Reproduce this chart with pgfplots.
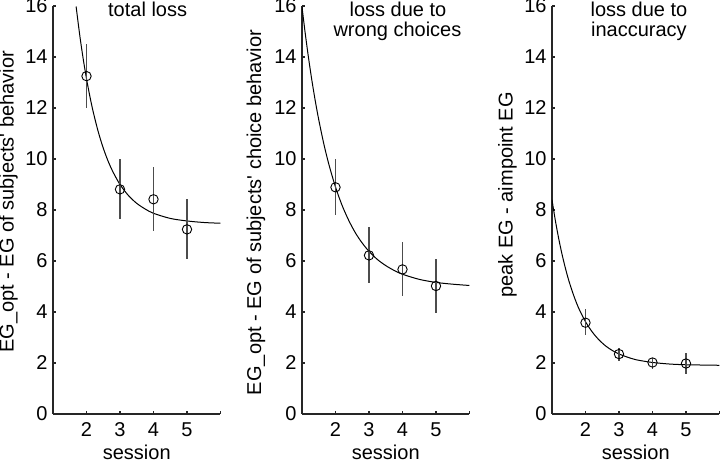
\documentclass[border=0pt]{standalone}
\usepackage{fontspec}
\setmainfont{Liberation Sans}
\usepackage{pgfplots}
\pgfplotsset{compat=1.18}
\pgfplotsset{
  panel/.style={
    scale only axis, width=83.75pt, height=204pt,
    anchor=south west,
    xmin=1, xmax=6, ymin=0, ymax=16,
    clip mode=individual,
    axis lines*=left,
    axis line style={line width=0.6pt, black!85},
    tick align=inside,
    major tick length=1.6pt,
    tick style={line width=0.6pt, black!85},
    xtick={2,3,4,5,6}, xticklabels={2,3,4,5,{}},
    ytick={0,2,...,16},
    /pgf/number format/assume math mode=true,
    font=\fontsize{10}{12}\selectfont,
    tick label style={font=\fontsize{10}{12}\selectfont},
    xticklabel style={anchor=base, yshift=-11.5pt},
    yticklabel style={xshift=0.8pt},
    xlabel={session},
    xlabel style={at={(axis description cs:0.5,0)}, anchor=base, yshift=-22.6pt},
  },
  fitline/.style={no marks, line width=0.5pt, black, smooth},
  datapts/.style={only marks, mark=o, mark size=2.35pt,
    mark options={line width=0.45pt, black},
    error bars/.cd, y dir=both, y explicit, error mark=none,
    error bar style={line width=0.6pt, black!70}},
}
\begin{document}
\begin{tikzpicture}
\useasboundingbox (0,0) rectangle (360pt,230.5pt);
% ---------------- panel 1
\begin{axis}[panel, at={(26.5pt,23.5pt)},
  ylabel={EG\_opt - EG of subjects\textquotesingle{} behavior},
  ylabel style={at={(axis description cs:-0.2657,0.52)}, anchor=center}]
\addplot[fitline] coordinates {
(1.69,15.98) (1.8,14.84) (1.9,13.94) (2.0,13.15) (2.1,12.46) (2.2,11.85)
(2.35,11.07) (2.5,10.43) (2.65,9.90) (2.8,9.47) (3.0,9.00) (3.25,8.57)
(3.5,8.26) (3.75,8.04) (4.0,7.87) (4.5,7.67) (5.0,7.57) (5.5,7.51) (6.0,7.48)};
\addplot[datapts] coordinates {
(2,13.25) += (0,1.25) -= (0,1.26)
(3,8.81) += (0,1.18) -= (0,1.18)
(4,8.42) += (0,1.28) -= (0,1.24)
(5,7.24) += (0,1.18) -= (0,1.17)};
\node[anchor=base, yshift=-5.2pt] at (rel axis cs:0.565,1) {total loss};
\end{axis}
% ---------------- panel 2
\begin{axis}[panel, at={(151pt,23.5pt)},
  ylabel={EG\_opt - EG of subjects\textquotesingle{} choice behavior},
  ylabel style={at={(axis description cs:-0.2746,0.494)}, anchor=center}]
\addplot[fitline] coordinates {
(1.0,15.96) (1.1,14.89) (1.2,13.92) (1.3,13.04) (1.4,12.25) (1.5,11.54)
(1.65,10.60) (1.8,9.80) (2.0,8.90) (2.2,8.17) (2.4,7.58) (2.6,7.09)
(2.8,6.70) (3.0,6.38) (3.25,6.06) (3.5,5.82) (3.75,5.63) (4.0,5.48)
(4.5,5.28) (5.0,5.16) (5.5,5.09) (6.0,5.04)};
\addplot[datapts] coordinates {
(2,8.89) += (0,1.11) -= (0,1.09)
(3,6.22) += (0,1.10) -= (0,1.09)
(4,5.67) += (0,1.06) -= (0,1.04)
(5,5.02) += (0,1.05) -= (0,1.07)};
\node[anchor=base, yshift=-5.2pt] at (rel axis cs:0.573,1) {loss due to};
\node[anchor=base, yshift=-15.4pt] at (rel axis cs:0.570,1) {wrong choices};
\end{axis}
% ---------------- panel 3
\begin{axis}[panel, at={(276pt,23.5pt)},
  ylabel={peak EG - aimpoint EG},
  ylabel style={at={(axis description cs:-0.2657,0.537)}, anchor=center}]
\addplot[fitline] coordinates {
(1.0,8.40) (1.1,7.59) (1.2,6.88) (1.3,6.26) (1.4,5.72) (1.5,5.24)
(1.65,4.64) (1.8,4.14) (2.0,3.62) (2.2,3.22) (2.4,2.91) (2.6,2.67)
(2.8,2.49) (3.0,2.355) (3.25,2.23) (3.5,2.13) (3.75,2.07) (4.0,2.02)
(4.5,1.96) (5.0,1.93) (5.5,1.92) (6.0,1.91)};
\addplot[datapts] coordinates {
(2,3.58) += (0,0.55) -= (0,0.49)
(3,2.35) += (0,0.25) -= (0,0.27)
(4,2.02) += (0,0.19) -= (0,0.24)
(5,1.98) += (0,0.40) -= (0,0.40)};
\node[anchor=base, yshift=-5.2pt] at (rel axis cs:0.519,1) {loss due to};
\node[anchor=base, yshift=-15.4pt] at (rel axis cs:0.519,1) {inaccuracy};
\end{axis}
\end{tikzpicture}
\end{document}
